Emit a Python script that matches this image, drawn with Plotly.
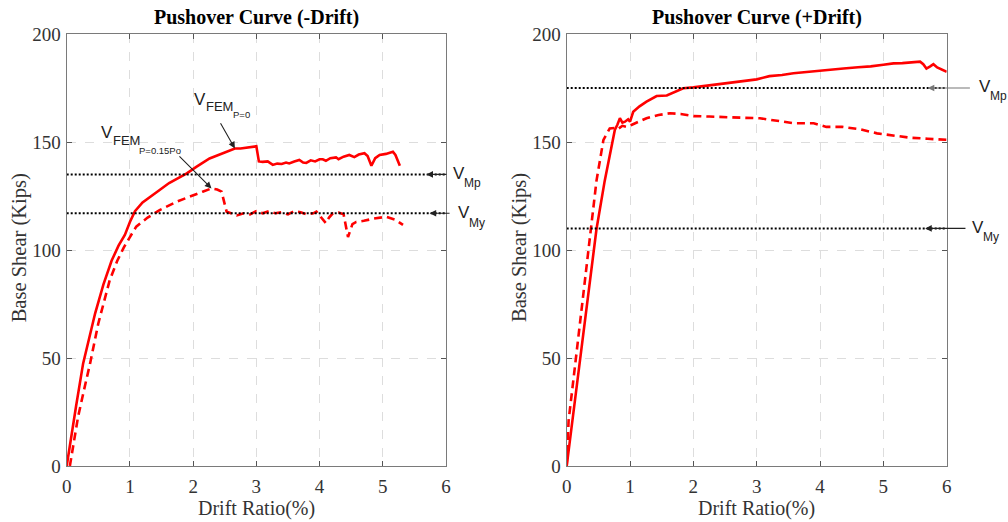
import plotly.graph_objects as go

# ---------------- data ----------------
neg_p0_x = [0, 0.05, 0.15, 0.26, 0.36, 0.45, 0.58, 0.71, 0.82, 0.92, 1.0, 1.08, 1.2, 1.33, 1.47, 1.62, 1.77, 1.9,
            2.05, 2.17, 2.26, 2.4, 2.53, 2.66, 2.75, 2.85, 2.97, 3.0, 3.04, 3.1, 3.18, 3.26, 3.33, 3.4, 3.47, 3.52,
            3.6, 3.68, 3.74, 3.79, 3.86, 3.93, 4.0, 4.05, 4.1, 4.17, 4.26, 4.3, 4.38, 4.47, 4.55, 4.62, 4.71, 4.76,
            4.82, 4.88, 4.95, 5.05, 5.16, 5.2, 5.27]
neg_p0_y = [0, 10, 28, 47.5, 60, 70.7, 84, 95, 102, 107, 113, 118, 122, 125, 127.8, 131, 133.5, 135.5,
            138.5, 140.5, 142.4, 144, 145.5, 147, 147, 147.5, 148, 148, 141, 140.8, 141, 139.4, 140, 139.8, 140.5, 140.1,
            141, 141.7, 140.5, 140.3, 141.5, 141, 142, 142, 141.3, 142.5, 142.9, 142, 143.2, 144, 143, 144.2, 144.8, 143.5,
            139, 142.5, 144, 144.5, 145.5, 144, 139]

neg_p15_x = [0.05, 0.18, 0.28, 0.37, 0.5, 0.6, 0.68, 0.8, 0.9, 1.0, 1.1, 1.28, 1.47, 1.75, 2.0, 2.15, 2.29, 2.38,
             2.45, 2.53, 2.6, 2.69, 2.8, 2.9, 3.0, 3.1, 3.2, 3.3, 3.4, 3.5, 3.6, 3.7, 3.8, 3.9, 3.95, 4.03, 4.1,
             4.15, 4.21, 4.3, 4.38, 4.45, 4.52, 4.58, 4.7, 4.85, 5.05, 5.2, 5.32]
neg_p15_y = [0, 22.8, 36, 47.5, 66, 77, 86, 95, 101, 106, 110.8, 115, 118.5, 122.5, 125.5, 127, 128.5, 128,
             127, 117.7, 117, 116, 117, 116.5, 118, 117, 118, 117, 117.5, 116.5, 118, 117.5, 116.5, 117, 117.8, 115, 112.4,
             115, 117, 117.3, 116.5, 106, 112, 113, 113.5, 114.5, 115.4, 114, 111.6]

pos_p0_x = [0, 0.2, 0.37, 0.47, 0.6, 0.7, 0.76, 0.8, 0.84, 0.88, 0.92, 0.97, 1.0, 1.05, 1.15, 1.26, 1.35, 1.42,
            1.58, 1.7, 1.84, 2.0, 2.2, 2.4, 2.6, 2.79, 3.0, 3.2, 3.4, 3.58, 3.8, 4.0, 4.2, 4.37, 4.6, 4.8, 5.0,
            5.16, 5.3, 5.45, 5.58, 5.63, 5.68, 5.74, 5.79, 5.85, 5.92, 6.0]
pos_p0_y = [0, 46, 86, 109.6, 132, 147, 155.6, 158, 161, 159, 159.4, 160.5, 159.4, 164, 166.5, 168.7, 170.2, 171.3,
            171.5, 173, 174.9, 175.3, 176, 176.8, 177.3, 178, 179, 180.5, 181, 181.8, 182.5, 183, 183.6, 184, 184.6, 185, 185.8,
            186.4, 186.5, 186.8, 187.2, 186, 184, 185, 186, 184.5, 183.5, 182.5]

pos_p15_x = [0, 0.03, 0.13, 0.29, 0.39, 0.47, 0.58, 0.68, 0.75, 0.81, 0.88, 0.95, 1.03, 1.15, 1.26, 1.45, 1.63,
             1.8, 2.0, 2.25, 2.53, 2.8, 3.05, 3.3, 3.58, 3.9, 4.1, 4.35, 4.63, 4.9, 5.15, 5.42, 5.7, 6.0]
pos_p15_y = [0, 21, 46, 86, 109.6, 132, 151, 156.3, 156.5, 156, 157.5, 157, 158, 159.5, 161, 162.5, 163.3,
             163, 162, 161.8, 161.4, 161.2, 161, 160, 158.7, 158.7, 157, 157, 155.9, 154, 153, 152, 151.5, 151]

neg_vmp, neg_vmy = 135, 117
pos_vmp, pos_vmy = 175, 110
x_range = [0, 6]
y_range = [0, 200]
x_ticks = [0, 1, 2, 3, 4, 5, 6]
y_ticks = [0, 50, 100, 150, 200]
titles = ["Pushover Curve (-Drift)", "Pushover Curve (+Drift)"]
x_title = "Drift Ratio(%)"
y_title = "Base Shear (Kips)"

RED = "#ff0000"
SERIF = "Liberation Serif, Times New Roman, serif"
SANS = "Liberation Sans, Arial, sans-serif"

W, H = 1008, 522
def PX(p):
    return p / W
def PY(p):
    return 1 - p / H

fig = go.Figure()

def add_curves(xs, ys, xa, ya, dash):
    fig.add_trace(go.Scatter(x=xs, y=ys, mode="lines", xaxis=xa, yaxis=ya,
                             line=dict(color=RED, width=2.6, dash=dash), showlegend=False,
                             hoverinfo="skip"))

add_curves(neg_p0_x, neg_p0_y, "x", "y", "solid")
add_curves(neg_p15_x, neg_p15_y, "x", "y", "8px,5px")
add_curves(pos_p0_x, pos_p0_y, "x2", "y2", "solid")
add_curves(pos_p15_x, pos_p15_y, "x2", "y2", "8px,5px")

for xa, ya, vals in [("x", "y", [neg_vmp, neg_vmy]), ("x2", "y2", [pos_vmp, pos_vmy])]:
    for v in vals:
        fig.add_trace(go.Scatter(x=x_range, y=[v, v], mode="lines", xaxis=xa, yaxis=ya,
                                 line=dict(color="black", width=2, dash="2px,2px"),
                                 showlegend=False, hoverinfo="skip"))

common = dict(showline=True, mirror="ticks", linecolor="#7a7a7a",
              linewidth=1.2, ticks="inside", ticklen=5, tickcolor="#555", showgrid=True,
              gridcolor="#dddddd", griddash="dash", gridwidth=1, zeroline=False,
              tickfont=dict(family=SERIF, size=19, color="#333"), automargin=False)
ax_common = dict(range=x_range, tickvals=x_ticks, ticklabelstandoff=3, **common)
ay_common = dict(range=y_range, tickvals=y_ticks, ticklabelstandoff=1, **common)

fig.update_layout(
    width=W, height=H, margin=dict(l=0, r=0, t=0, b=0),
    paper_bgcolor="white", plot_bgcolor="white",
    xaxis=dict(domain=[PX(66.7), PX(446)], anchor="y", **ax_common),
    yaxis=dict(domain=[PY(466), PY(34)], anchor="x", **ay_common),
    xaxis2=dict(domain=[PX(566.7), PX(946.7)], anchor="y2", **ax_common),
    yaxis2=dict(domain=[PY(466), PY(34)], anchor="x2", **ay_common),
)

ann = []
for cx, t in [(256, titles[0]), (756.7, titles[1])]:
    ann.append(dict(text="<b>%s</b>" % t, x=PX(cx), y=PY(17), xref="paper", yref="paper",
                    xanchor="center", yanchor="middle", showarrow=False,
                    font=dict(family=SERIF, size=20, color="black")))
    ann.append(dict(text=x_title, x=PX(cx), y=PY(508), xref="paper", yref="paper",
                    xanchor="center", yanchor="middle", showarrow=False,
                    font=dict(family=SERIF, size=20, color="#333")))
for cx in [19.3, 519]:
    ann.append(dict(text=y_title, x=PX(cx), y=PY(248), xref="paper", yref="paper",
                    xanchor="center", yanchor="middle", textangle=-90, showarrow=False,
                    font=dict(family=SERIF, size=20.5, color="#333")))

def label(pieces):
    for txt, px, py, size in pieces:
        ann.append(dict(text=txt, x=PX(px), y=PY(py), xref="paper", yref="paper",
                        xanchor="left", yanchor="middle", showarrow=False,
                        font=dict(family=SANS, size=size, color="#222")))

def arrow(xr, yr, x, y, axv, ayv, color="#222"):
    ann.append(dict(text="", x=x, y=y, ax=axv, ay=ayv, xref=xr, yref=yr, axref=xr, ayref=yr,
                    showarrow=True, arrowhead=2, arrowsize=1.2, arrowwidth=1.1, arrowcolor=color,
                    standoff=0, startstandoff=0))

# left subplot
label([("V", 192, 99, 17), ("FEM", 204, 107, 13), ("P=0", 231, 115, 9.5)])
arrow("x", "y", 2.66, 147, 2.42, 159.4)
label([("V", 99, 132.5, 17), ("FEM", 111, 140, 13), ("P=0.15Po", 137, 150, 9.5)])
arrow("x", "y", 2.29, 128.5, 1.76, 144)
label([("V", 451, 174, 17), ("Mp", 462, 183, 12)])
arrow("x", "y", 5.69, neg_vmp, 6.03, neg_vmp)
label([("V", 456, 212.5, 17), ("My", 467, 223, 12)])
arrow("x", "y", 5.74, neg_vmy, 6.08, neg_vmy)

# right subplot
label([("V", 977, 87, 17), ("Mp", 988, 96, 12)])
arrow("x2", "y2", 5.70, pos_vmp, 6.39, pos_vmp, color="#777")
label([("V", 970, 227, 17), ("My", 981, 237, 12)])
arrow("x2", "y2", 5.66, pos_vmy, 6.32, pos_vmy)

fig.update_layout(annotations=ann)
# remove the browser's default body margin so the 1008x522 figure fills the window exactly
fig.write_html("out.html", config={"displayModeBar": False},
               post_script="document.body.style.margin='0';document.body.style.overflow='hidden';")
